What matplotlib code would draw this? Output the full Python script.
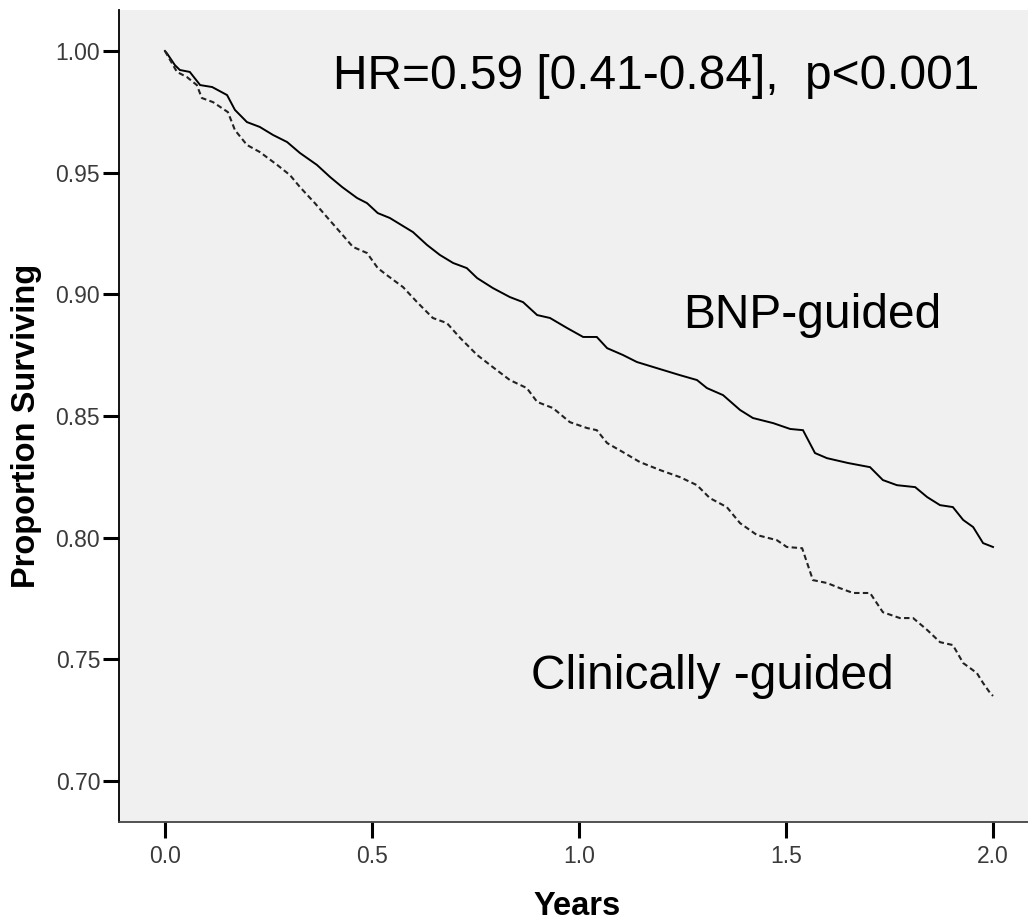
import matplotlib
matplotlib.use("Agg")
import matplotlib.pyplot as plt

# BNP-guided (solid) Kaplan-Meier estimate
bnp_years = [0.000, 0.005, 0.024, 0.036, 0.060, 0.085, 0.114, 0.150, 0.169, 0.198, 0.229,
             0.261, 0.295, 0.326, 0.367, 0.399, 0.428, 0.464, 0.488, 0.514, 0.543,
             0.599, 0.633, 0.664, 0.696, 0.729, 0.754, 0.792, 0.833, 0.865, 0.899,
             0.930, 0.971, 1.010, 1.043, 1.068, 1.106, 1.140, 1.188, 1.244, 1.285,
             1.309, 1.348, 1.389, 1.420, 1.469, 1.510, 1.541, 1.570, 1.599, 1.650,
             1.703, 1.734, 1.768, 1.812, 1.841, 1.872, 1.903, 1.928, 1.952, 1.976,
             2.000]
bnp_surv = [1.000, 0.9990, 0.9942, 0.9922, 0.9914, 0.9860, 0.9852, 0.9819, 0.9758, 0.9708, 0.9688,
            0.9655, 0.9626, 0.9581, 0.9532, 0.9482, 0.9441, 0.9396, 0.9375, 0.9334, 0.9314,
            0.9256, 0.9203, 0.9162, 0.9129, 0.9108, 0.9067, 0.9026, 0.8989, 0.8968, 0.8915,
            0.8903, 0.8862, 0.8825, 0.8825, 0.8779, 0.8751, 0.8722, 0.8697, 0.8668, 0.8648,
            0.8615, 0.8586, 0.8525, 0.8492, 0.8471, 0.8447, 0.8442, 0.8348, 0.8327, 0.8307,
            0.8290, 0.8237, 0.8216, 0.8208, 0.8167, 0.8134, 0.8126, 0.8073, 0.8044, 0.7978,
            0.7962]

# Clinically-guided (dashed) Kaplan-Meier estimate
clin_years = [0.000, 0.029, 0.053, 0.077, 0.089, 0.116, 0.152, 0.169, 0.198, 0.229,
              0.271, 0.302, 0.326, 0.362, 0.391, 0.423, 0.454, 0.488, 0.514, 0.536,
              0.575, 0.609, 0.647, 0.681, 0.713, 0.754, 0.792, 0.833, 0.874, 0.899,
              0.937, 0.978, 1.019, 1.043, 1.068, 1.106, 1.147, 1.196, 1.244, 1.285,
              1.316, 1.357, 1.389, 1.430, 1.478, 1.502, 1.539, 1.565, 1.599, 1.630,
              1.662, 1.703, 1.734, 1.775, 1.807, 1.841, 1.872, 1.903, 1.928, 1.961,
              1.976, 1.993, 2.000]
clin_surv = [1.000, 0.9914, 0.9893, 0.9860, 0.9807, 0.9790, 0.9749, 0.9675, 0.9614, 0.9585,
             0.9532, 0.9490, 0.9441, 0.9375, 0.9318, 0.9256, 0.9195, 0.9170, 0.9108, 0.9079,
             0.9030, 0.8968, 0.8903, 0.8882, 0.8821, 0.8751, 0.8701, 0.8648, 0.8615, 0.8558,
             0.8533, 0.8475, 0.8451, 0.8442, 0.8389, 0.8352, 0.8311, 0.8278, 0.8249, 0.8216,
             0.8163, 0.8126, 0.8060, 0.8011, 0.7990, 0.7962, 0.7957, 0.7826, 0.7814, 0.7793,
             0.7773, 0.7773, 0.7694, 0.7670, 0.7670, 0.7621, 0.7571, 0.7559, 0.7485, 0.7444,
             0.7403, 0.7362, 0.7350]

x_ticks = [0.0, 0.5, 1.0, 1.5, 2.0]
x_tick_labels = ["0.0", "0.5", "1.0", "1.5", "2.0"]
y_ticks = [0.70, 0.75, 0.80, 0.85, 0.90, 0.95, 1.00]
y_tick_labels = ["0.70", "0.75", "0.80", "0.85", "0.90", "0.95", "1.00"]

annotation = "HR=0.59 [0.41-0.84],  p<0.001"
label_bnp = "BNP-guided"
label_clin = "Clinically -guided"

plt.rcParams['font.family'] = ['Liberation Sans', 'DejaVu Sans']

fig = plt.figure(figsize=(10.28, 9.21), dpi=100)
ax = fig.add_axes([119/1028, 99/921, 1 - 119/1028, (822-10)/921])
ax.set_facecolor('#f0f0f0')

ax.plot(bnp_years, bnp_surv, color='black', lw=1.4, solid_joinstyle='miter')
ax.plot(clin_years, clin_surv, color='#222222', lw=1.5, dashes=(2.6, 1.6))

ax.set_xlim(-0.111, 2.0845)
ax.set_ylim(0.6832, 1.01685)

ax.set_xticks(x_ticks)
ax.set_xticklabels(x_tick_labels)
ax.set_yticks(y_ticks)
ax.set_yticklabels(y_tick_labels)

ax.tick_params(axis='y', direction='out', length=11.5, width=2.2, pad=2,
               labelsize=16.5, labelcolor='#3a3a3a', color='black')
ax.tick_params(axis='x', direction='out', length=11.5, width=2.2, pad=5,
               labelsize=16.5, labelcolor='#3a3a3a', color='black')

for side in ['top', 'right']:
    ax.spines[side].set_visible(False)
ax.spines['left'].set_color('black')
ax.spines['left'].set_linewidth(1.3)
ax.spines['bottom'].set_color('#444444')
ax.spines['bottom'].set_linewidth(1.3)

fig.text(577/1028, 1 - 906/921, "Years", fontsize=23.5, fontweight='bold',
         ha='center', va='center')
fig.text(27/1028, 1 - 426/921, "Proportion Surviving", fontsize=23.5, fontweight='bold',
         ha='center', va='center', rotation=90)

ax.text(1.186, 0.9895, annotation, fontsize=34.5, ha='center', va='center')
ax.text(1.563, 0.8914, label_bnp, fontsize=34.5, ha='center', va='center')
ax.text(1.321, 0.7428, label_clin, fontsize=34.5, ha='center', va='center')

fig.savefig("out.png", dpi=100)
